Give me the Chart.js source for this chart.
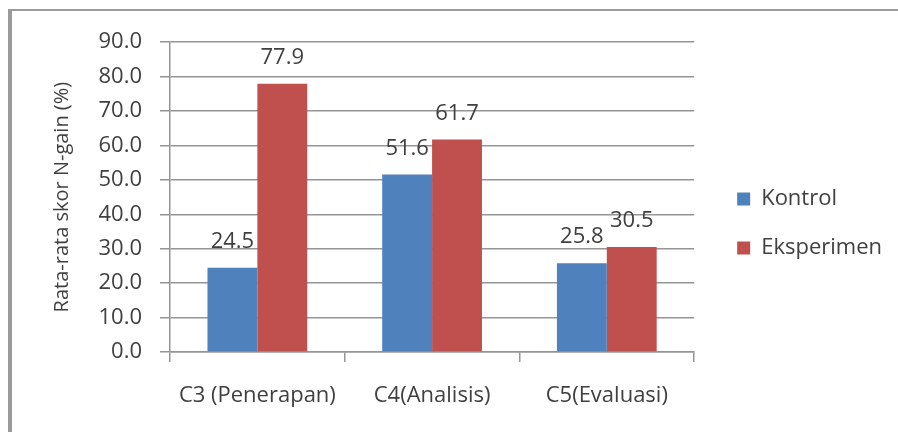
<!DOCTYPE html>
<html>
<head>
<meta charset="utf-8">
<script src="https://cdn.jsdelivr.net/npm/chart.js@4"></script>
<style>
  body { margin: 0; background: #fff; }
  #frame {
    position: absolute; left: 8px; top: 9px;
    width: 886px; height: 421px;
    border-left: 4px solid #9a9a9a;
    border-top: 2px solid #9a9a9a;
  }
</style>
</head>
<body>
<div id="frame"><canvas id="gainChart" width="886" height="421"></canvas></div>
<script>
const categories = ['C3 (Penerapan)', 'C4(Analisis)', 'C5(Evaluasi)']
const kontrol = [24.5, 51.6, 25.8]
const eksperimen = [77.9, 61.7, 30.5]
const yTicks = [0, 10, 20, 30, 40, 50, 60, 70, 80, 90]

const fontName = '"Open Sans", "Liberation Sans", sans-serif'
const textColor = '#404040'
const gridColor = '#959595'

// value labels over each bar
const barLabels = {
    id: 'barLabels',
    afterDatasetsDraw(chart) {
        const ctx = chart.ctx
        ctx.save()
        ctx.font = '22px ' + fontName
        ctx.fillStyle = textColor
        ctx.textAlign = 'center'
        ctx.textBaseline = 'middle'
        chart.data.datasets.forEach((ds, i) => {
            chart.getDatasetMeta(i).data.forEach((bar, j) => {
                ctx.fillText(ds.data[j].toFixed(1), bar.x, bar.y - 26)
            })
        })
        ctx.restore()
    }
}

// push legend a bit away from the plot, like the original
const legendPlace = {
    id: 'legendPlace',
    afterLayout(chart) {
        const lg = chart.legend
        const w = lg.right - lg.left
        lg.left = chart.chartArea.right + 16
        lg.right = lg.left + w
        lg.top = 150
    }
}

const ctx = document.getElementById('gainChart')
new Chart(ctx, {
    type: 'bar',
    data: {
        labels: categories,
        datasets: [{
            label: 'Kontrol',
            data: kontrol,
            backgroundColor: '#4F81BD',
            categoryPercentage: 0.571,
            barPercentage: 1
        }, {
            label: 'Eksperimen',
            data: eksperimen,
            backgroundColor: '#C0504D',
            categoryPercentage: 0.571,
            barPercentage: 1
        }]
    },
    plugins: [barLabels, legendPlace],
    options: {
        responsive: false,
        animation: false,
        layout: { padding: { top: 29, left: 0, right: 22, bottom: 0 } },
        plugins: {
            tooltip: { enabled: false },
            legend: {
                position: 'right',
                align: 'start',
                labels: {
                    boxWidth: 13,
                    boxHeight: 13,
                    padding: 27,
                    color: textColor,
                    font: { family: fontName, size: 22 }
                }
            }
        },
        scales: {
            x: {
                afterFit(scale) { scale.height = 80 },
                grid: {
                    drawOnChartArea: false,
                    drawTicks: true,
                    tickLength: 10,
                    color: gridColor,
                    lineWidth: 1.5
                },
                border: { color: gridColor, width: 1.5 },
                ticks: {
                    padding: 21,
                    color: textColor,
                    font: { family: fontName, size: 22 }
                }
            },
            y: {
                min: 0,
                max: 90,
                afterFit(scale) { scale.width = 158 },
                afterBuildTicks(scale) { scale.ticks = yTicks.map(v => ({ value: v })) },
                grid: {
                    color: gridColor,
                    lineWidth: 1.5,
                    tickLength: 10
                },
                border: { color: gridColor, width: 1.5 },
                ticks: {
                    padding: 18,
                    color: textColor,
                    font: { family: fontName, size: 22 },
                    callback: v => v.toFixed(1)
                },
                title: {
                    display: true,
                    text: 'Rata-rata skor N-gain (%)',
                    color: textColor,
                    font: { family: fontName, size: 20 },
                    padding: { top: 38, bottom: 0 }
                }
            }
        }
    }
})
</script>
</body>
</html>
